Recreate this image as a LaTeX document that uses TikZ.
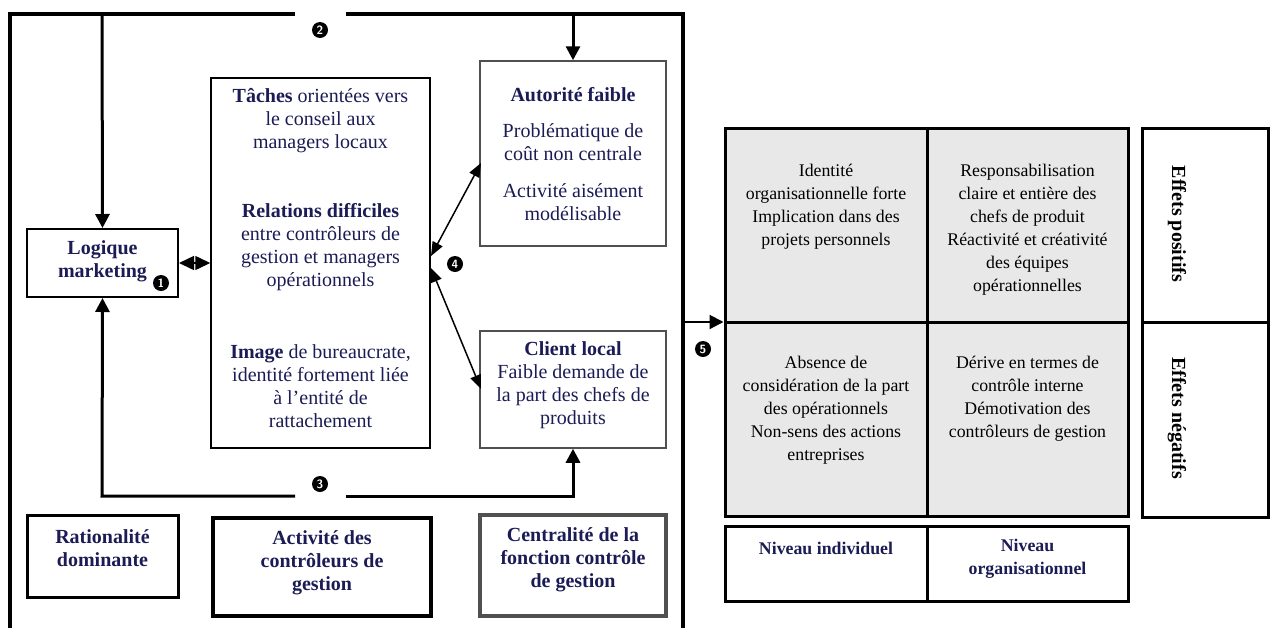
\documentclass[tikz,border=0pt]{standalone}
\usepackage{fontspec}
\setmainfont{Liberation Serif}
\usetikzlibrary{arrows.meta}
\definecolor{navy}{HTML}{1B1B55}
\definecolor{cellgray}{HTML}{E8E8E8}
\definecolor{boxgray}{HTML}{505050}
\begin{document}
\begin{tikzpicture}[x=1pt,y=-1pt,
  frameline/.style={line width=3.5pt, line join=miter},
  bigarrow/.style={line width=3pt, -{Triangle[length=14pt,width=14pt]}},
  thinarrow/.style={line width=1.5pt, {Triangle[length=14pt,width=11pt]}-{Triangle[length=14pt,width=11pt]}},
  txt/.style={font=\fontsize{20}{23}\selectfont, align=center, text=navy, inner sep=0pt},
  smalltxt/.style={font=\fontsize{17.8}{23}\selectfont, align=center, text=navy, inner sep=0pt},
  celltxt/.style={font=\fontsize{17.8}{23}\selectfont, align=center, text=black, inner sep=0pt},
  sidetxt/.style={font=\fontsize{20}{23}\selectfont, align=center, text=black, inner sep=0pt},
  num/.style={circle, fill=black, text=white, font=\fontsize{12}{12}\selectfont\bfseries\sffamily, inner sep=0pt, minimum size=16pt},
  box/.style={draw, rectangle, inner sep=0pt},
  cell/.style={draw, rectangle, inner sep=0pt, fill=cellgray, line width=3pt},
]
\useasboundingbox (0,0) rectangle (1271,627);

% outer frame
\coordinate (ftl) at (10,14);
\coordinate (fgapl) at (295,14);
\coordinate (fgapr) at (346,14);
\coordinate (ftr) at (683,14);
\coordinate (fbl) at (10,630);
\coordinate (fbr) at (683,630);
\draw[frameline] (fgapl) -- (ftl) -- (fbl);
\draw[frameline] (fgapr) -- (ftr) -- (fbr);

% boxes
\node[box, line width=2pt, minimum width=151pt, minimum height=68pt] (logique) at (102.5,263) {};
\node[box, line width=1.5pt, minimum width=219pt, minimum height=370pt] (mid) at (320.5,263) {};
\node[box, draw=boxgray, line width=1.5pt, minimum width=186pt, minimum height=185pt] (autorite) at (573,153.5) {};
\node[box, draw=boxgray, line width=1.5pt, minimum width=186pt, minimum height=117pt] (client) at (573,389.5) {};
\node[box, line width=3pt, minimum width=151pt, minimum height=82pt] (ratio) at (102.5,556) {};
\node[box, line width=3.5pt, minimum width=218pt, minimum height=98pt] (activ) at (322,567) {};
\node[box, draw=boxgray, line width=3.5pt, minimum width=186pt, minimum height=101pt] (centr) at (573,565.5) {};

% texts left part
\node[txt] (tlog) at (102.5,261.5) {\textbf{Logique}\\\textbf{marketing}};
\node[txt] (ttach) at (320.5,121) {\textbf{Tâches} orientées vers\\le conseil aux\\managers locaux};
\node[txt] (trel) at (320.5,247.5) {\textbf{Relations difficiles}\\entre contrôleurs de\\gestion et managers\\opérationnels};
\node[txt] (timg) at (320.5,386.5) {\textbf{Image} de bureaucrate,\\identité fortement liée\\à l’entité de\\rattachement};
\node[txt] (taut1) at (573,95) {\textbf{Autorité faible}};
\node[txt] (taut2) at (573,142.5) {Problématique de\\coût non centrale};
\node[txt] (taut3) at (573,202.5) {Activité aisément\\modélisable};
\node[txt] (tcli) at (573,385) {\textbf{Client local}\\Faible demande de\\la part des chefs de\\produits};
\node[txt] (trat) at (102.5,548.5) {\textbf{Rationalité}\\\textbf{dominante}};
\node[txt] (tact) at (322,562.5) {\textbf{Activité des}\\\textbf{contrôleurs de}\\\textbf{gestion}};
\node[txt] (tcen) at (573,560) {\textbf{Centralité de la}\\\textbf{fonction contrôle}\\\textbf{de gestion}};

% numbers
\node[num] (n1) at (161,283) {1};
\node[num] (n2) at (320,30) {2};
\node[num] (n3) at (320,484) {3};
\node[num] (n4) at (455,264) {4};
\node[num] (n5) at (703,349) {5};

% arrow 2
\coordinate (a2l) at (102,14);
\coordinate (a2r) at (573,14);
\draw[bigarrow] (a2l) -- (logique.north);
\draw[bigarrow] (a2r) -- (autorite.north);

% arrow 3
\coordinate (a3gl) at (295,496);
\coordinate (a3gr) at (346,496);
\coordinate (a3l) at (102,496);
\coordinate (a3r) at (573,496);
\draw[bigarrow, line join=miter] (a3gl) -- (a3l) -- (logique.south);
\draw[bigarrow, line join=miter] (a3gr) -- (a3r) -- (client.south);

% arrow 1
\draw[line width=1.5pt, {Triangle[length=15pt,width=14pt]}-{Triangle[length=15pt,width=14pt]}] (logique.east) -- (mid.west);

% arrows 4
\coordinate (m4a) at (431,256);
\coordinate (m4b) at (431,268);
\coordinate (e4a) at (481,163);
\coordinate (e4b) at (481,389);
\draw[thinarrow] (m4a) -- (e4a);
\draw[thinarrow] (m4b) -- (e4b);

% grid
\node[cell, minimum width=202pt, minimum height=194pt] (c11) at (826,225) {};
\node[cell, minimum width=201pt, minimum height=194pt] (c12) at (1027.5,225) {};
\node[cell, minimum width=202pt, minimum height=194pt] (c21) at (826,419) {};
\node[cell, minimum width=201pt, minimum height=194pt] (c22) at (1027.5,419) {};
\node[box, line width=3pt, minimum width=202pt, minimum height=75pt] (niv1) at (826,563.5) {};
\node[box, line width=3pt, minimum width=201pt, minimum height=75pt] (niv2) at (1027.5,563.5) {};
\node[box, line width=3pt, minimum width=126pt, minimum height=194pt] (eff1) at (1205,225) {};
\node[box, line width=3pt, minimum width=126pt, minimum height=195pt] (eff2) at (1205,419.5) {};

% arrow 5
\coordinate (a5) at (683,322);
\draw[line width=2pt, -{Triangle[length=14pt,width=14pt]}] (a5) -- (a5 -| c11.west);

% grid texts
\node[celltxt] (g11) at (826,206.5) {Identité\\organisationnelle forte\\Implication dans des\\projets personnels};
\node[celltxt] (g12) at (1027.5,229.5) {Responsabilisation\\claire et entière des\\chefs de produit\\Réactivité et créativité\\des équipes\\opérationnelles};
\node[celltxt] (g21) at (826,410.5) {Absence de\\considération de la part\\des opérationnels\\Non-sens des actions\\entreprises};
\node[celltxt] (g22) at (1027.5,398.5) {Dérive en termes de\\contrôle interne\\Démotivation des\\contrôleurs de gestion};
\node[smalltxt] (tn1) at (826,548) {\textbf{Niveau individuel}};
\node[smalltxt] (tn2) at (1027.5,559) {\textbf{Niveau}\\\textbf{organisationnel}};
\node[sidetxt, rotate=-90] (te1) at (1177,224) {\textbf{Effets positifs}};
\node[sidetxt, rotate=-90] (te2) at (1177,418) {\textbf{Effets négatifs}};
\end{tikzpicture}
\end{document}
